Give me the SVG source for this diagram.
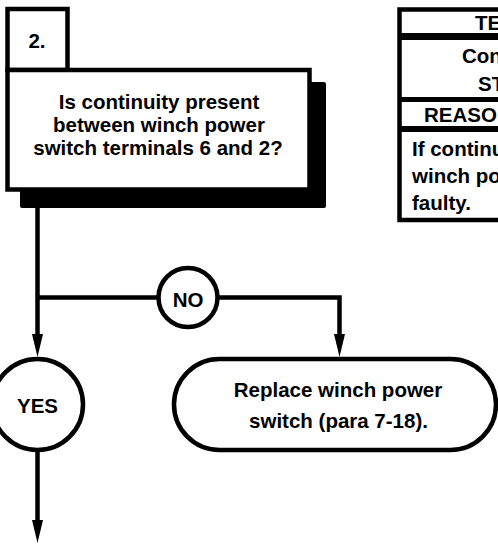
<svg xmlns="http://www.w3.org/2000/svg" width="498" height="544" viewBox="0 0 498 544">
  <style>
    .t { font-family: "Liberation Sans", Arial, sans-serif; font-weight: bold; font-size: 20.5px; fill: #000; }
    .m { text-anchor: middle; }
    .box { fill: #fff; stroke: #000; stroke-width: 4.5; }
    .ln { fill: none; stroke: #000; stroke-width: 4.5; }
  </style>
  <defs>
    <marker id="arr" markerUnits="userSpaceOnUse" markerWidth="24" markerHeight="12" refX="0" refY="5.5" orient="auto" overflow="visible">
      <path d="M0,0 L23,5.5 L0,11 Z" fill="#000"/>
    </marker>
  </defs>
  <rect width="498" height="544" fill="#fff"/>

  <g id="step-2">
    <rect x="20" y="82" width="306" height="126" rx="2" fill="#000"/>
    <rect class="box" x="7.5" y="9" width="60" height="61"/>
    <text class="t m" x="37" y="48">2.</text>
    <rect class="box" x="7.5" y="70" width="302" height="119.5"/>
    <text class="t m" x="159" y="109">Is continuity present</text>
    <text class="t m" x="159" y="132">between winch power</text>
    <text class="t m" x="158" y="155">switch terminals 6 and 2?</text>
  </g>

  <g id="test-table">
    <path class="ln" d="M520,9.5 H399.5 V220 H520"/>
    <rect x="399.5" y="33" width="120" height="7" fill="#000"/>
    <line x1="399.5" y1="99.5" x2="520" y2="99.5" stroke="#000" stroke-width="5"/>
    <line x1="399.5" y1="129" x2="520" y2="129" stroke="#000" stroke-width="6"/>
    <text class="t" x="475" y="30">TE</text>
    <text class="t" x="462" y="63">Con</text>
    <text class="t" x="478" y="91">ST</text>
    <text class="t" x="424" y="122">REASO</text>
    <text class="t" x="412" y="156">If continu</text>
    <text class="t" x="412" y="183">winch po</text>
    <text class="t" x="412" y="210">faulty.</text>
  </g>

  <g id="connectors">
    <path class="ln" d="M37.5,207 V334" marker-end="url(#arr)"/>
    <path class="ln" d="M37.5,297.5 H160"/>
    <path class="ln" d="M216,297.5 H339.5 V334" marker-end="url(#arr)"/>
    <path class="ln" d="M37.5,450 V520" marker-end="url(#arr)"/>
  </g>

  <g id="no">
    <circle class="box" cx="188" cy="297.5" r="29.5"/>
    <text class="t m" x="188" y="307">NO</text>
  </g>

  <g id="yes">
    <circle class="box" cx="37.5" cy="404.5" r="45.5"/>
    <text class="t m" x="37.5" y="413">YES</text>
  </g>

  <g id="replace">
    <rect class="box" x="174" y="359" width="322" height="91" rx="45.5" ry="45.5"/>
    <text class="t m" x="338" y="397">Replace winch power</text>
    <text class="t m" x="338.5" y="428">switch (para 7-18).</text>
  </g>
</svg>
